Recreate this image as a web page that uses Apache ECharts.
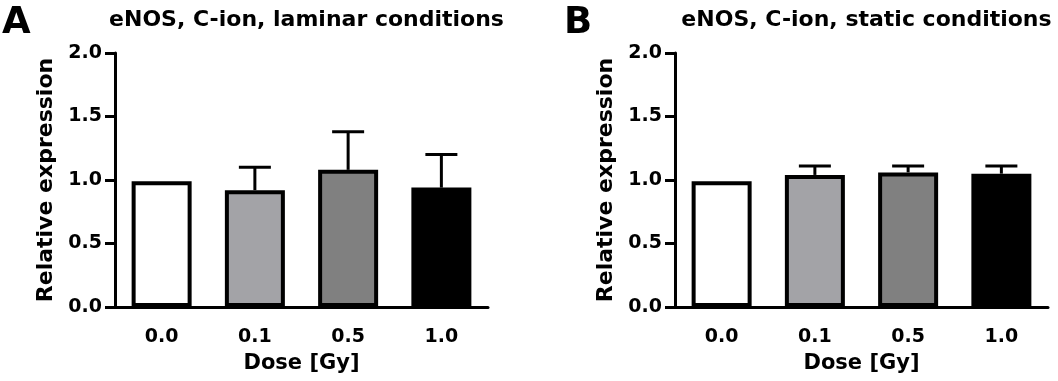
<!DOCTYPE html>
<html>
<head>
<meta charset="utf-8">
<script src="https://cdn.jsdelivr.net/npm/echarts@6/dist/echarts.min.js"></script>
<style>
  html, body { margin: 0; padding: 0; background: #fff; }
  #chart { width: 1058px; height: 381px; }
</style>
</head>
<body>
<div id="chart"></div>
<script>
const doses = ['0.0', '0.1', '0.5', '1.0']
const barColors = ['#ffffff', '#a3a3a7', '#808080', '#000000']

// panel A - laminar
const laminarMean = [0.99, 0.92, 1.08, 0.94]
const laminarSem = [0, 0.18, 0.30, 0.26]
// panel B - static
const staticMean = [0.99, 1.04, 1.06, 1.05]
const staticSem = [0, 0.07, 0.05, 0.06]

const FONT = 'DejaVu Sans'

const panels = [
    { letter: 'A', title: 'eNOS, C-ion, laminar conditions', left: 115, mean: laminarMean, sem: laminarSem },
    { letter: 'B', title: 'eNOS, C-ion, static conditions', left: 675, mean: staticMean, sem: staticSem },
]
const gridW = 373

const chart = echarts.init(document.getElementById('chart'))

const titles = []
const grids = []
const xAxes = []
const yAxes = []
const series = []

panels.forEach((p, i) => {
    titles.push({
        text: p.letter,
        left: i === 0 ? -3 : p.left - 116,
        top: 0,
        textStyle: { fontFamily: FONT, fontWeight: 'bold', fontSize: 37, color: '#000' },
    })
    titles.push({
        text: p.title,
        left: p.left + gridW / 2,
        textAlign: 'center',
        top: 4,
        textStyle: { fontFamily: FONT, fontWeight: 'bold', fontSize: 22, color: '#000' },
    })
    grids.push({ left: p.left, top: 53, width: gridW, height: 254, outerBoundsMode: 'none' })
    xAxes.push({
        type: 'category',
        gridIndex: i,
        data: doses,
        name: 'Dose [Gy]',
        nameLocation: 'middle',
        nameGap: 46,
        nameTextStyle: { fontFamily: FONT, fontWeight: 'bold', fontSize: 21, color: '#000' },
        axisLine: { lineStyle: { color: '#000', width: 3 } },
        axisTick: { alignWithLabel: true, length: 10, lineStyle: { color: '#000', width: 3 } },
        axisLabel: { margin: 21, fontFamily: FONT, fontWeight: 'bold', fontSize: 19, color: '#000' },
        splitLine: { show: false },
    })
    yAxes.push({
        type: 'value',
        gridIndex: i,
        min: 0,
        max: 2,
        interval: 0.5,
        name: 'Relative expression',
        nameLocation: 'middle',
        nameGap: 58,
        nameTextStyle: { fontFamily: FONT, fontWeight: 'bold', fontSize: 22, color: '#000' },
        axisLine: { show: true, lineStyle: { color: '#000', width: 3 } },
        axisTick: { show: true, length: 10, lineStyle: { color: '#000', width: 3 } },
        axisLabel: {
            margin: 13,
            fontFamily: FONT, fontWeight: 'bold', fontSize: 19, color: '#000',
            formatter: (v) => v.toFixed(1),
        },
        splitLine: { show: false },
    })
    series.push({
        type: 'bar',
        xAxisIndex: i,
        yAxisIndex: i,
        barWidth: 60,
        data: p.mean.map((v, k) => ({
            value: v,
            itemStyle: { color: barColors[k], borderColor: '#000', borderWidth: 4 },
        })),
        z: 2,
    })
    // upper error whisker only, like prism
    series.push({
        type: 'custom',
        xAxisIndex: i,
        yAxisIndex: i,
        z: 3,
        data: p.mean.map((v, k) => [k, v, v + p.sem[k]]),
        renderItem: (params, api) => {
            if (api.value(2) <= api.value(1)) return null
            const base = api.coord([api.value(0), api.value(1)])
            const top = api.coord([api.value(0), api.value(2)])
            const half = 16
            const style = { stroke: '#000', lineWidth: 3 }
            return {
                type: 'group',
                children: [
                    { type: 'line', shape: { x1: base[0], y1: base[1], x2: top[0], y2: top[1] }, style },
                    { type: 'line', shape: { x1: top[0] - half, y1: top[1], x2: top[0] + half, y2: top[1] }, style },
                ],
            }
        },
    })
})

chart.setOption({
    animation: false,
    backgroundColor: '#fff',
    title: titles,
    grid: grids,
    xAxis: xAxes,
    yAxis: yAxes,
    series: series,
})
</script>
</body>
</html>
